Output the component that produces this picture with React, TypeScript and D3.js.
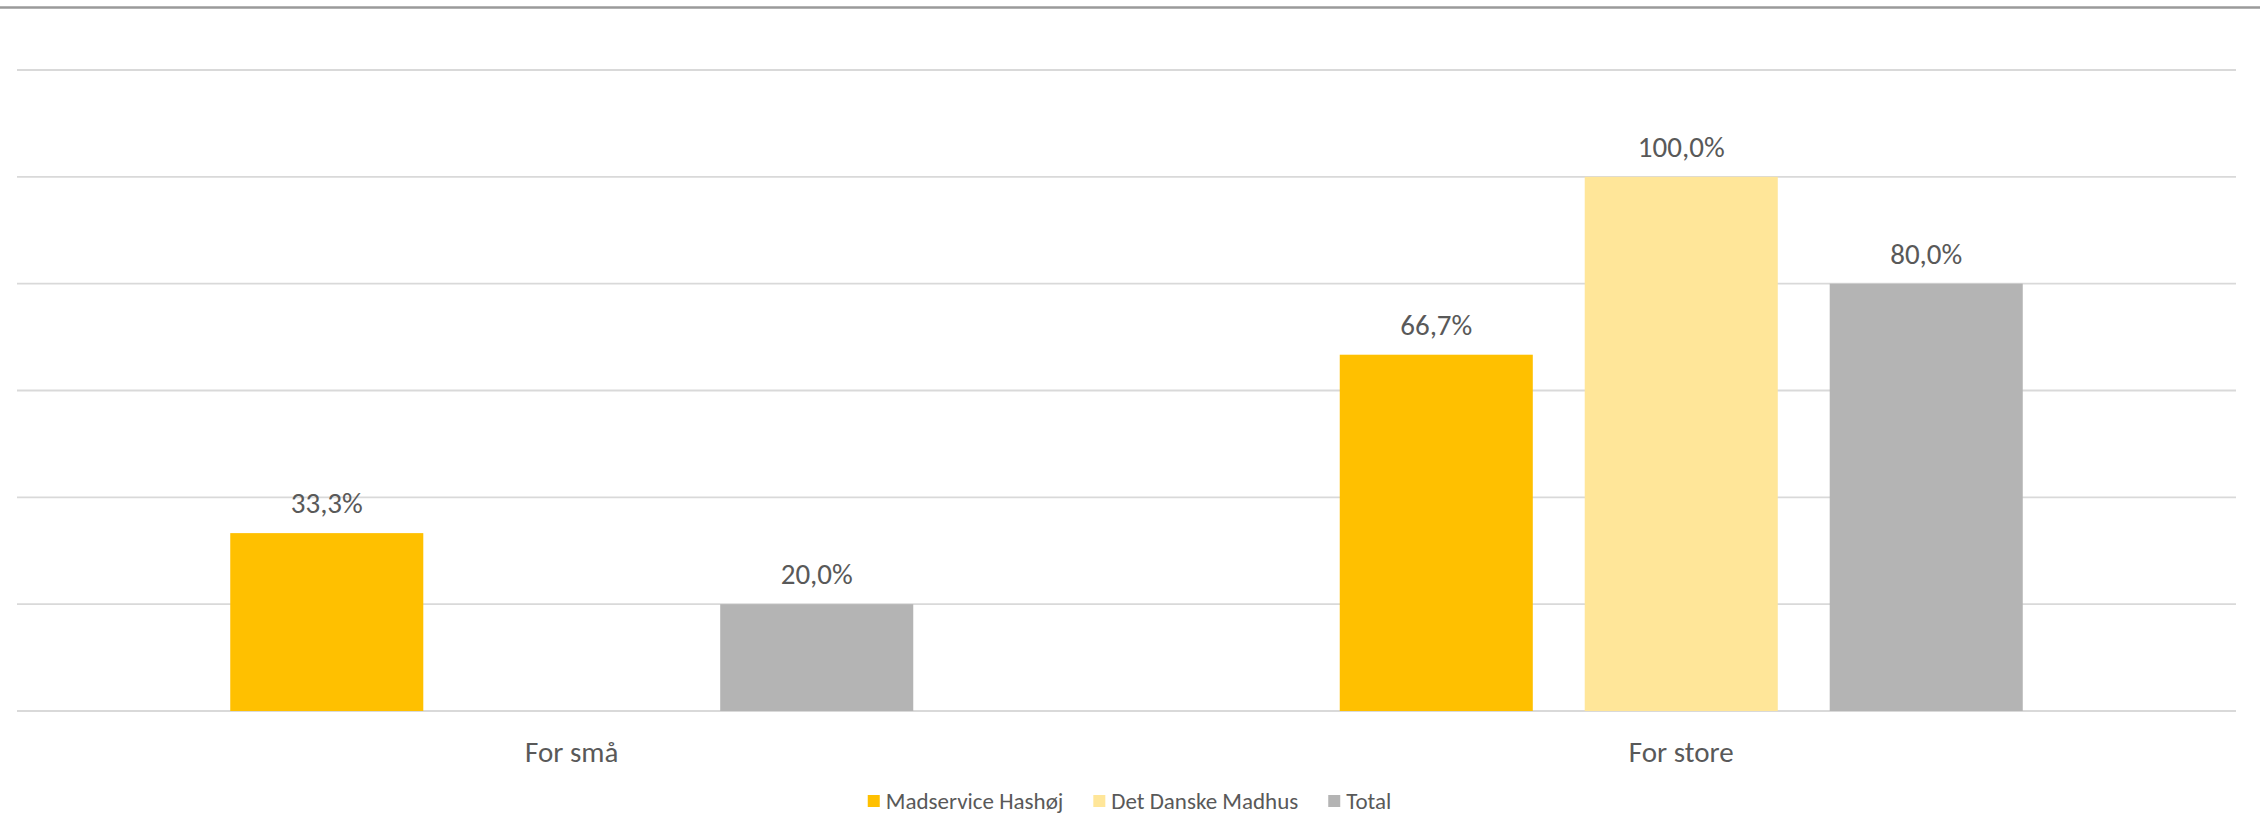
import React, { useEffect, useRef } from "react";
import * as d3 from "d3";

const categories = ["For små", "For store"];
const seriesNames = ["Madservice Hashøj", "Det Danske Madhus", "Total"];
const seriesColors = ["#FFC000", "#FFE699", "#B4B4B4"];
const madserviceValues: (number | null)[] = [33.3, 66.7];
const danskeMadhusValues: (number | null)[] = [null, 100.0];
const totalValues: (number | null)[] = [20.0, 80.0];
const yTicks = [0, 20, 40, 60, 80, 100, 120];

const W = 2260;
const H = 816;
const FONT = "Carlito, Calibri, Lato, 'Open Sans', sans-serif";
const TEXT = "#595959";

export default function App() {
  const ref = useRef<SVGSVGElement>(null);

  useEffect(() => {
    const svg = d3.select(ref.current);
    svg.selectAll("*").remove();

    const left = 17, right = 2236, top = 70, bottom = 711;
    const y = d3.scaleLinear().domain([0, 120]).range([bottom, top]);
    const x0 = d3.scaleBand<string>().domain(categories).range([left, right]).padding(0);
    const groupFrac = 683 / 1109.5;
    const series = [madserviceValues, danskeMadhusValues, totalValues];

    svg.append("rect").attr("width", W).attr("height", H).attr("fill", "#fff");
    svg.append("line").attr("x1", 0).attr("x2", W).attr("y1", 7.5).attr("y2", 7.5)
      .attr("stroke", "#9a9a9a").attr("stroke-width", 2.5);

    svg.append("g").selectAll("line").data(yTicks).join("line")
      .attr("x1", left).attr("x2", right)
      .attr("y1", (d) => y(d)).attr("y2", (d) => y(d))
      .attr("stroke", "#D9D9D9").attr("stroke-width", 1.8);

    categories.forEach((cat, ci) => {
      const bw = x0.bandwidth();
      const gw = bw * groupFrac;
      const gx = (x0(cat) as number) + (bw - gw) / 2;
      const x1 = d3.scaleBand<number>().domain([0, 1, 2]).range([gx, gx + gw])
        .paddingInner(0.212).paddingOuter(0);
      series.forEach((vals, si) => {
        const v = vals[ci];
        if (v == null) return;
        const bx = x1(si) as number;
        svg.append("rect").attr("x", bx).attr("width", x1.bandwidth())
          .attr("y", y(v)).attr("height", y(0) - y(v)).attr("fill", seriesColors[si]);
        svg.append("text").attr("x", bx + x1.bandwidth() / 2).attr("y", y(v) - 20)
          .attr("text-anchor", "middle").attr("font-family", FONT).attr("font-size", 29)
          .attr("fill", TEXT).text(d3.format(".1f")(v).replace(".", ",") + "%");
      });
      svg.append("text").attr("x", (x0(cat) as number) + bw / 2).attr("y", 762)
        .attr("text-anchor", "middle").attr("font-family", FONT).attr("font-size", 29)
        .attr("fill", TEXT).text(cat);
    });

    // legend
    const lg = svg.append("g");
    const sq = 12, gapSq = 6, gapItem = 30;
    const items = seriesNames.map((name, i) => {
      const g = lg.append("g");
      g.append("rect").attr("width", sq).attr("height", sq).attr("y", -sq / 2 - 1).attr("fill", seriesColors[i]);
      const t = g.append("text").attr("x", sq + gapSq).attr("y", 7).attr("font-family", FONT)
        .attr("font-size", 23).attr("fill", TEXT).text(name);
      const tw = (t.node() as SVGTextElement).getComputedTextLength();
      return { g, w: sq + gapSq + tw };
    });
    const total = d3.sum(items, (d) => d.w) + gapItem * (items.length - 1);
    let cx = (left + right) / 2 - total / 2 + 3;
    items.forEach((it) => {
      it.g.attr("transform", `translate(${cx},802)`);
      cx += it.w + gapItem;
    });
  }, []);

  return (
    <svg ref={ref} width={W} height={H}
      style={{ position: "absolute", left: 0, top: 0, display: "block" }} />
  );
}
